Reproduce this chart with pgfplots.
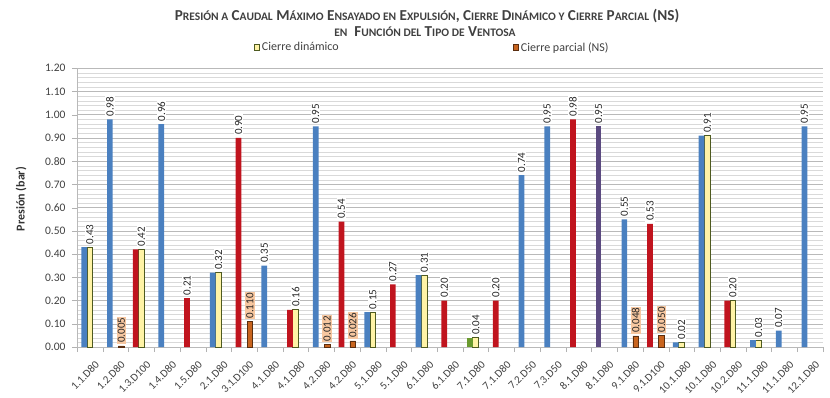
\documentclass[border=0pt]{standalone}
\usepackage{pgfplots}
\pgfplotsset{compat=1.18}
\usepackage{fontspec}
\setmainfont{Carlito}

\definecolor{expblue}{HTML}{4A80C0}
\definecolor{expred}{HTML}{C0141E}
\definecolor{exppurple}{HTML}{5B4A80}
\definecolor{expgreen}{HTML}{6A9A2E}
\definecolor{dinfill}{HTML}{FFF3A6}
\definecolor{dindraw}{HTML}{4E5A20}
\definecolor{parfill}{HTML}{C8641E}
\definecolor{pardraw}{HTML}{5A2E10}
\definecolor{parlab}{HTML}{F7C7A0}
\definecolor{txt}{HTML}{404040}

% reduced capitals for the title
\newcommand{\sm}[1]{{\fontsize{11.5}{13}\selectfont #1}}

\pgfplotsset{
  expbar/.style={ybar, bar width=5.7pt, bar shift=-5.7pt, draw=none, fill=#1, forget plot},
  % value labels: #1 = horizontal offset of the bar, #2 = background
  lab2/.style 2 args={nodes near coords={\pgfmathprintnumber[fixed,fixed zerofill,precision=2,assume math mode=true]{\pgfplotspointmeta}},
    every node near coord/.append style={xshift=#1, rotate=90, anchor=west, fill=#2, inner sep=1pt, outer xsep=2pt,
      font=\fontsize{11}{12}\selectfont, text=black!85}},
  lab3/.style 2 args={nodes near coords={\pgfmathprintnumber[fixed,fixed zerofill,precision=3,assume math mode=true]{\pgfplotspointmeta}},
    every node near coord/.append style={xshift=#1, rotate=90, anchor=west, fill=#2, inner sep=1pt, outer xsep=2pt,
      font=\fontsize{11}{12}\selectfont, text=black!85}},
}

\begin{document}
\begin{tikzpicture}
\path[use as bounding box] (0,0) rectangle (830pt,-398pt);

\node[font=\bfseries\fontsize{15.2}{16}\selectfont, text=txt] at (427pt,-16pt)
  {P\sm{RESIÓN A} C\sm{AUDAL} M\sm{ÁXIMO} E\sm{NSAYADO EN} E\sm{XPULSIÓN}, C\sm{IERRE} D\sm{INÁMICO Y} C\sm{IERRE} P\sm{ARCIAL} (NS)};
\node[font=\bfseries\fontsize{15.2}{16}\selectfont, text=txt] at (425pt,-32pt)
  {\sm{EN}\ \ F\sm{UNCIÓN DEL} T\sm{IPO DE} V\sm{ENTOSA}};

\begin{axis}[
  at={(77pt,-347pt)}, anchor=south west,
  width=746pt, height=278.7pt, scale only axis,
  xmin=-0.5, xmax=28.5, ymin=0, ymax=1.2,
  axis x line*=bottom, axis y line*=left,
  axis line style={draw=gray!55},
  xtick={-0.5,0.5,...,28.5},
  x tick label as interval,
  xticklabels={1.1.D80,1.2.D80,1.3.D100,1.4.D80,1.5.D80,2.1.D80,3.1.D100,4.1.D80,4.1.D80,4.2.D80,4.2.D80,5.1.D80,5.1.D80,6.1.D80,6.1.D80,7.1.D80,7.1.D80,7.2.D50,7.3.D50,8.1.D80,8.1.D80,9.1.D80,9.1.D100,10.1.D80,10.1.D80,10.2.D80,11.1.D80,11.1.D80,12.1.D80,},
  xticklabel style={rotate=45, anchor=east, font=\fontsize{11}{12}\selectfont, text=black!75, xshift=1pt, yshift=-13pt},
  ytick={0,0.1,0.2,0.3,0.4,0.5,0.6,0.7,0.8,0.9,1.0,1.1,1.2},
  yticklabel style={font=\fontsize{11.5}{12}\selectfont, text=black!75, xshift=-3pt,
    /pgf/number format/fixed, /pgf/number format/fixed zerofill,
    /pgf/number format/precision=2, /pgf/number format/assume math mode=true},
  tick align=outside, major tick length=5pt, minor tick length=0pt,
  tick style={draw=gray!60},
  ymajorgrids, yminorgrids, minor y tick num=4,
  major grid style={draw=gray!55, line width=0.5pt},
  minor grid style={draw=gray!30, line width=0.4pt},
  ylabel={\bfseries Presión (bar)},
  ylabel style={at={(axis description cs:-0.075,0.531)}, anchor=center, font=\fontsize{12}{13}\selectfont, text=black!80},
  legend columns=2,
  legend style={at={(0.476,1.075)}, anchor=center, draw=none, fill=none,
    font=\fontsize{12}{13}\selectfont, text=txt,
    /tikz/every even column/.append style={column sep=172pt}},
  legend image code/.code={\draw[#1] (0pt,-2.8pt) rectangle (5.6pt,2.8pt);},
]

% Cierre dinamico
\addplot[ybar, bar width=5.7pt, bar shift=0pt, fill=dinfill, draw=dindraw, line width=0.8pt, lab2={0pt}{white}]
  coordinates {(0,0.43) (2,0.42) (5,0.32) (8,0.16) (11,0.15) (13,0.31) (15,0.04) (23,0.02) (24,0.91) (25,0.20) (26,0.03)};
\addlegendentry{Cierre dinámico}

% Cierre parcial (NS)
\addplot[ybar, bar width=5.7pt, bar shift=5.7pt, fill=parfill, draw=pardraw, line width=0.6pt, lab3={5.7pt}{parlab}]
  coordinates {(1,0.005) (6,0.110) (9,0.012) (10,0.026) (21,0.048) (22,0.050)};
\addlegendentry{Cierre parcial (NS)}

% Expulsion, coloured by type of valve
\addplot[expbar=expblue, lab2={-5.7pt}{white}]
  coordinates {(1,0.98) (3,0.96) (7,0.35) (9,0.95) (17,0.74) (18,0.95) (21,0.55) (27,0.07) (28,0.95)};
\addplot[expbar=expblue]
  coordinates {(0,0.43) (5,0.32) (11,0.15) (13,0.31) (23,0.02) (24,0.91) (26,0.03)};
\addplot[expbar=expred, lab2={-5.7pt}{white}]
  coordinates {(4,0.21) (6,0.90) (10,0.54) (12,0.27) (14,0.20) (16,0.20) (19,0.98) (22,0.53)};
\addplot[expbar=expred]
  coordinates {(2,0.42) (8,0.16) (25,0.20)};
\addplot[expbar=exppurple, lab2={-5.7pt}{white}]
  coordinates {(20,0.95)};
\addplot[expbar=expgreen]
  coordinates {(15,0.04)};

\end{axis}
\end{tikzpicture}
\end{document}
